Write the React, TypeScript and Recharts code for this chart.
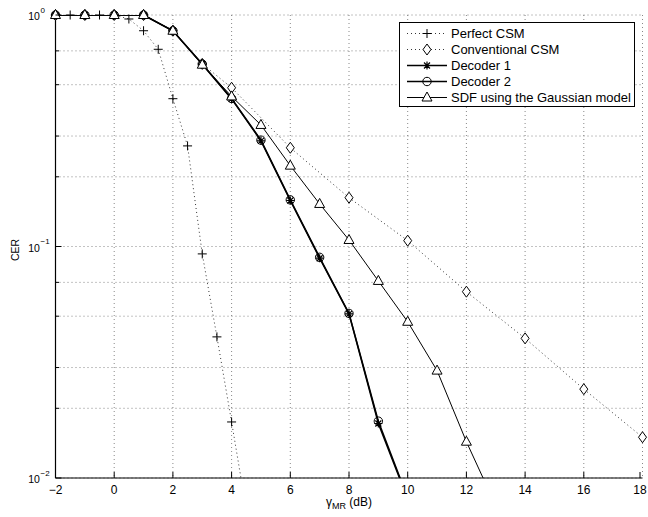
import React from 'react';
import { LineChart, Line, XAxis, YAxis, CartesianGrid } from 'recharts';

// x positions (dB) and CER values
const perfectX = [-2, -1.5, -1, -0.5, 0, 0.5, 1, 1.5, 2, 2.5, 3, 3.5, 4, 4.5];
const perfectY = [1, 1, 1, 1, 1, 0.961, 0.855, 0.711, 0.435, 0.272, 0.0929, 0.0407, 0.01746, 0.0073];

const convX = [-2, -1, 0, 1, 2, 3, 4, 6, 8, 10, 12, 14, 16, 18];
const convY = [1, 1, 1, 1, 0.855, 0.615, 0.485, 0.267, 0.1625, 0.106, 0.0638, 0.0401, 0.0242, 0.015];

const decX = [-2, -1, 0, 1, 2, 3, 4, 5, 6, 7, 8, 9, 10];
const dec1Y = [1, 1, 1, 1, 0.855, 0.612, 0.434, 0.286, 0.158, 0.089, 0.0512, 0.0172, 0.0081];
const dec2Y = [1, 1, 1, 1, 0.855, 0.614, 0.436, 0.288, 0.159, 0.0898, 0.0514, 0.0176, 0.0082];

const sdfX = [-2, -1, 0, 1, 2, 3, 4, 5, 6, 7, 8, 9, 10, 11, 12, 13];
const sdfY = [1, 1, 1, 1, 0.855, 0.61, 0.445, 0.335, 0.2235, 0.1527, 0.1067, 0.071, 0.0473, 0.0291, 0.01435, 0.0076];

const xTicks = [-2, 0, 2, 4, 6, 8, 10, 12, 14, 16, 18];
const yTicks = [
  0.01, 0.02, 0.03, 0.04, 0.05, 0.06, 0.07, 0.08, 0.09,
  0.1, 0.2, 0.3, 0.4, 0.5, 0.6, 0.7, 0.8, 0.9, 1,
];
const yMajor: Record<string, string> = { '1': '0', '0.1': '\u22121', '0.01': '\u22122' };

const zip = (xs: number[], ys: number[]) => xs.map((x, i) => ({ x, y: ys[i] }));

const FONT = '"Liberation Sans", Arial, Helvetica, sans-serif';
const INK = '#000';

const Plus = ({ cx, cy }: any) => (
  <path d={`M${cx - 4.5},${cy}H${cx + 4.5}M${cx},${cy - 4.5}V${cy + 4.5}`} stroke={INK} strokeWidth={1} fill="none" />
);
const Diamond = ({ cx, cy }: any) => (
  <path d={`M${cx},${cy - 5.5}L${cx + 4},${cy}L${cx},${cy + 5.5}L${cx - 4},${cy}Z`} stroke={INK} strokeWidth={1} fill="#fff" />
);
const Star = ({ cx, cy }: any) => (
  <path
    d={`M${cx - 4},${cy}H${cx + 4}M${cx},${cy - 4}V${cy + 4}M${cx - 3},${cy - 3}L${cx + 3},${cy + 3}M${cx - 3},${cy + 3}L${cx + 3},${cy - 3}`}
    stroke={INK}
    strokeWidth={1.2}
    fill="none"
  />
);
const Circle = ({ cx, cy }: any) => <circle cx={cx} cy={cy} r={4.2} stroke={INK} strokeWidth={1} fill="none" />;
const Triangle = ({ cx, cy }: any) => (
  <path d={`M${cx},${cy - 5.5}L${cx + 5},${cy + 3.5}L${cx - 5},${cy + 3.5}Z`} stroke={INK} strokeWidth={1} fill="#fff" />
);

const series = [
  { name: 'Perfect CSM', data: zip(perfectX, perfectY), dash: '1 3', width: 0.8, Mark: Plus },
  { name: 'Conventional CSM', data: zip(convX, convY), dash: '1 3', width: 0.8, Mark: Diamond },
  { name: 'Decoder 1', data: zip(decX, dec1Y), dash: undefined, width: 1.5, Mark: Star },
  { name: 'Decoder 2', data: zip(decX, dec2Y), dash: undefined, width: 1.5, Mark: Circle },
  { name: 'SDF using the Gaussian model', data: zip(sdfX, sdfY), dash: undefined, width: 1, Mark: Triangle },
];

const LeftTick = ({ x, y, payload }: any) => {
  const exp = yMajor[String(payload.value)];
  return (
    <g>
      <line x1={x} x2={x + (exp ? 6 : 3.5)} y1={y} y2={y} stroke={INK} />
      {exp && (
        <text x={x - 21.5} y={y + 5} textAnchor="middle" fontSize={10.5} fontFamily={FONT} fill={INK}>
          10
          <tspan x={x - 15} dy={-7.5} fontSize={8} textAnchor="start">{exp}</tspan>
        </text>
      )}
    </g>
  );
};

const RightTick = ({ x, y, payload }: any) => {
  const major = !!yMajor[String(payload.value)];
  return <line x1={x} x2={x - (major ? 6 : 3.5)} y1={y} y2={y} stroke={INK} />;
};

const BottomTick = ({ x, y, payload }: any) => {
  const label = payload.value < 0 ? `\u2212${Math.abs(payload.value)}` : String(payload.value);
  return (
    <g>
      <line x1={x} x2={x} y1={y} y2={y - 6} stroke={INK} />
      <text x={x} y={y + 15.5} textAnchor="middle" fontSize={12} fontFamily={FONT} fill={INK}>
        {label}
      </text>
    </g>
  );
};

const TopTick = ({ x, y }: any) => <line x1={x} x2={x} y1={y} y2={y + 6} stroke={INK} />;

const LegendBox = () => (
  <div
    style={{
      position: 'absolute',
      left: 399,
      top: 22,
      width: 236,
      height: 85,
      border: '1.5px solid #000',
      background: '#fff',
      boxSizing: 'border-box',
    }}
  >
    <svg width={236} height={85} style={{ position: 'absolute', left: -1.5, top: -1.5 }}>
      {series.map((s, i) => {
        const cy = 11.5 + i * 16;
        const M = s.Mark;
        return (
          <g key={s.name}>
            <line x1={8} x2={48} y1={cy} y2={cy} stroke={INK} strokeWidth={s.width} strokeDasharray={s.dash} />
            <M cx={28} cy={cy} />
            <text x={52} y={cy + 4.5} fontSize={13} fontFamily={FONT} fill={INK}>
              {s.name}
            </text>
          </g>
        );
      })}
    </svg>
  </div>
);

const App: React.FC = () => {
  return (
    <div style={{ position: 'absolute', left: 0, top: 0, width: 648, height: 517, background: '#fff' }}>
      <LineChart width={648} height={517} margin={{ top: 15, right: 5.5, bottom: 9, left: 15.5 }}>
        <CartesianGrid xAxisId="b" yAxisId="l" stroke="#555" strokeWidth={0.7} strokeDasharray="1 3" />
        <XAxis
          xAxisId="b"
          dataKey="x"
          type="number"
          domain={[-2, 18]}
          ticks={xTicks}
          height={30}
          tickSize={0}
          tickMargin={0}
          tickLine={false}
          tick={<BottomTick />}
          axisLine={{ stroke: INK, strokeWidth: 1.2 }}
        />
        <XAxis
          xAxisId="t"
          orientation="top"
          dataKey="x"
          type="number"
          domain={[-2, 18]}
          ticks={xTicks}
          height={0}
          tickSize={0}
          tickMargin={0}
          tickLine={false}
          tick={<TopTick />}
          axisLine={{ stroke: INK, strokeWidth: 1.2 }}
        />
        <YAxis
          yAxisId="l"
          scale="log"
          type="number"
          domain={[0.01, 1]}
          ticks={yTicks}
          width={40}
          tickSize={0}
          tickMargin={0}
          tickLine={false}
          tick={<LeftTick />}
          axisLine={{ stroke: INK, strokeWidth: 1.2 }}
          allowDataOverflow
        />
        {/* right axis carries the markers (unclipped, all in range) */}
        <YAxis
          yAxisId="r"
          orientation="right"
          scale="log"
          type="number"
          domain={[0.01, 1]}
          ticks={yTicks}
          width={0}
          tickSize={0}
          tickMargin={0}
          tickLine={false}
          tick={<RightTick />}
          axisLine={{ stroke: INK, strokeWidth: 1.2 }}
        />
        {series.map((s) => (
          <Line
            key={s.name}
            xAxisId="b"
            yAxisId="l"
            data={s.data}
            dataKey="y"
            name={s.name}
            stroke={INK}
            strokeWidth={s.width}
            strokeDasharray={s.dash}
            dot={false}
            activeDot={false}
            isAnimationActive={false}
          />
        ))}
        {series.map((s) => (
          <Line
            key={s.name + '-marks'}
            xAxisId="b"
            yAxisId="r"
            data={s.data.filter((d) => d.y >= 0.01)}
            dataKey="y"
            stroke="none"
            dot={(p: any) => <s.Mark key={p.index} cx={p.cx} cy={p.cy} />}
            activeDot={false}
            legendType="none"
            isAnimationActive={false}
          />
        ))}
      </LineChart>
      <LegendBox />
      <div
        style={{
          position: 'absolute',
          left: 0,
          width: 698,
          top: 496,
          textAlign: 'center',
          fontFamily: FONT,
          fontSize: 12,
          lineHeight: '13px',
        }}
      >
        γ<sub style={{ fontSize: 9 }}>MR</sub> (dB)
      </div>
      <div
        style={{
          position: 'absolute',
          left: 15 - 20,
          top: 250 - 7,
          width: 40,
          lineHeight: '14px',
          textAlign: 'center',
          transform: 'rotate(-90deg)',
          fontFamily: FONT,
          fontSize: 10.5,
        }}
      >
        CER
      </div>
    </div>
  );
};

export default App;
